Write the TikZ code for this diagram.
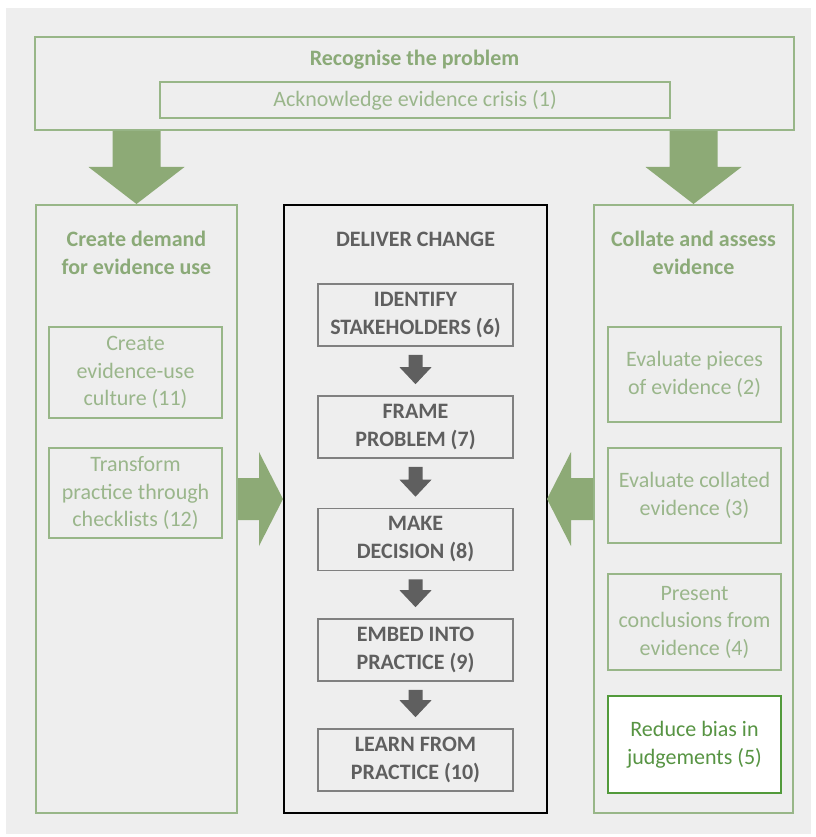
\documentclass[tikz,border=0pt]{standalone}
\usepackage{fontspec}
\setmainfont{Carlito}
\usetikzlibrary{calc}
\definecolor{bg}{HTML}{EEEEEE}
\definecolor{gline}{HTML}{98B688}
\definecolor{gtitlec}{HTML}{8BAA78}
\definecolor{gtext}{HTML}{9AB68B}
\definecolor{garrow}{HTML}{8DAA76}
\definecolor{dgreen}{HTML}{529A3B}
\definecolor{dgtext}{HTML}{579443}
\definecolor{ctext}{HTML}{5F5F5F}
\definecolor{cline}{HTML}{808080}
\begin{document}
\begin{tikzpicture}[x=1pt,y=-1pt,
  every node/.style={inner sep=0pt, align=center, font=\fontsize{22}{27.5}\selectfont},
  gbox/.style={draw=gline, line width=2pt, text=gtext},
  gtitle/.style={text=gtitlec, font=\fontsize{22}{28}\selectfont\bfseries},
  colbox/.style={draw=gline, line width=2pt, minimum width=#1, minimum height=608pt},
  sidebox/.style={gbox, minimum width=173pt, minimum height=#1},
  cbox/.style={draw=cline, line width=1.6pt, text=ctext, font=\fontsize{22}{28}\selectfont\bfseries, minimum width=195pt, minimum height=62pt},
  bigarrow/.style={fill=garrow},
  smallarrow/.style={fill=ctext}
]
\useasboundingbox (0,0) rectangle (815,837);
\fill[bg] (6,8) rectangle (811,834);

% top
\node[draw=gline, line width=2pt, minimum width=759pt, minimum height=93pt] (top) at (414.5,83.5) {};
\node[gtitle] (toptitle) at (414.5,60) {Recognise the problem};
\node[gbox, minimum width=510pt, minimum height=36pt] (n1) at (415,100) {Acknowledge evidence crisis (1)};

% columns
\node[colbox=201pt] (lcol) at (136.5,509) {};
\node[colbox=199pt] (rcol) at (693.5,509) {};
\node[draw=black, line width=1.8pt, minimum width=263pt, minimum height=608pt] (ccol) at (415.5,509) {};

\node[gtitle] (ltitle) at (136.5,253) {Create demand\\for evidence use};
\node[gtitle] (rtitle) at (693.5,253) {Collate and assess\\evidence};
\node[text=ctext, font=\fontsize{22}{28}\selectfont\bfseries] (ctitle) at (415.5,239) {DELIVER CHANGE};

% left inner
\node[sidebox=91pt] (n11) at (135.5,372.5) {Create\\evidence-use\\culture (11)};
\node[sidebox=90pt] (n12) at (135.5,493) {Transform\\practice through\\checklists (12)};

% right inner
\node[sidebox=95pt] (n2) at (694.5,374.5) {Evaluate pieces\\of evidence (2)};
\node[sidebox=95pt] (n3) at (694.5,495.5) {Evaluate collated\\evidence (3)};
\node[sidebox=96pt] (n4) at (694.5,622) {Present\\conclusions from\\evidence (4)};
\node[draw=dgreen, line width=2pt, fill=white, text=dgtext, minimum width=173pt, minimum height=97pt] (n5) at (694.5,744.5) {Reduce bias in\\judgements (5)};

% centre inner
\node[cbox] (c6) at (415.5,315) {IDENTIFY\\STAKEHOLDERS (6)};
\node[cbox] (c7) at (415.5,427) {FRAME\\PROBLEM (7)};
\node[cbox] (c8) at (415.5,539.5) {MAKE\\DECISION (8)};
\node[cbox] (c9) at (415.5,650) {EMBED INTO\\PRACTICE (9)};
\node[cbox] (c10) at (415.5,760) {LEARN FROM\\PRACTICE (10)};

% small arrows
\foreach \a/\b in {c6/c7,c7/c8,c8/c9,c9/c10}{
  \fill[smallarrow] ($(\a.south)+(-7,8)$) -- ($(\a.south)+(7,8)$) -- ($(\b.north)+(7,-28)$) -- ($(\b.north)+(16,-28)$) -- ($(\b.north)+(0,-11)$) -- ($(\b.north)+(-16,-28)$) -- ($(\b.north)+(-7,-28)$) -- cycle;
}

% big down arrows
\foreach \c in {lcol,rcol}{
  \fill[bigarrow] ($(\c.north |- top.south)+(-24,0)$) -- ($(\c.north |- top.south)+(24,0)$) -- ($(\c.north)+(24,-37)$) -- ($(\c.north)+(48,-37)$) -- (\c.north) -- ($(\c.north)+(-48,-37)$) -- ($(\c.north)+(-24,-37)$) -- cycle;
}

% side arrows
\coordinate (la) at ($(lcol.east)+(0,-10)$);
\coordinate (ra) at ($(rcol.west)+(0,-10)$);
\fill[bigarrow] ($(la)+(0,-21)$) -- ($(la)+(21,-21)$) -- ($(la)+(21,-47)$) -- ($(la)+(45,0)$) -- ($(la)+(21,47)$) -- ($(la)+(21,21)$) -- ($(la)+(0,21)$) -- cycle;
\fill[bigarrow] ($(ra)+(0,-21)$) -- ($(ra)+(-22,-21)$) -- ($(ra)+(-22,-47)$) -- ($(ra)+(-46,0)$) -- ($(ra)+(-22,47)$) -- ($(ra)+(-22,21)$) -- ($(ra)+(0,21)$) -- cycle;
\end{tikzpicture}
\end{document}
